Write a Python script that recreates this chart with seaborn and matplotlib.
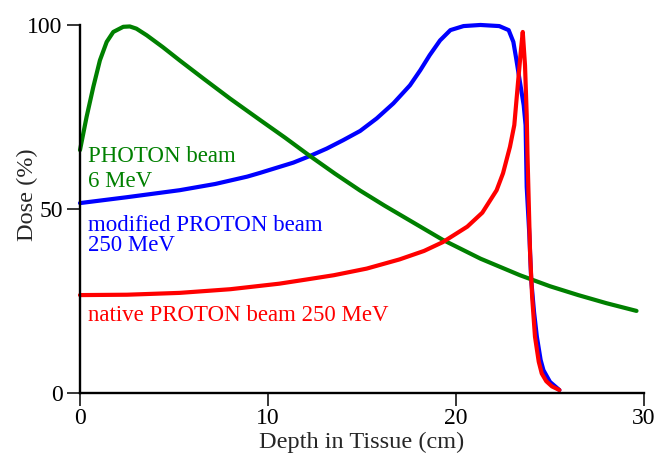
import matplotlib
matplotlib.use("Agg")
import matplotlib.pyplot as plt
import seaborn as sns
import pandas as pd

# depth (cm) and relative dose (%)
photon_x = [0, 0.35, 0.71, 1.06, 1.42, 1.77, 2.3, 2.65, 3.0, 3.55, 4.4, 5.32, 6.6, 7.98, 9.57,
            10.9, 12.23, 13.56, 14.9, 16.2, 17.4, 18.3, 19.3, 21.3, 23.4, 25.0, 26.5, 28.0, 29.6]
photon_y = [66, 75, 83.2, 90.4, 95.4, 98.1, 99.5, 99.6, 99.0, 97.2, 94.0, 90.3, 85.3, 80.0, 74.2,
            69.4, 64.4, 59.6, 55.0, 50.9, 47.3, 44.6, 41.6, 36.5, 32, 29.0, 26.6, 24.4, 22.3]

modified_x = [0, 2.5, 5.3, 7.2, 8.9, 9.57, 11.35, 12.23, 13.12, 14.0, 14.9, 15.78, 16.67, 17.55,
              18.1, 18.6, 19.15, 19.7, 20.4, 21.3, 22.3, 22.8, 23.05, 23.2, 23.4, 23.6, 23.7,
              23.76, 23.9, 24.0, 24.15, 24.3, 24.5, 24.65, 25.0, 25.5]
modified_y = [51.6, 53.2, 55.1, 56.8, 58.8, 59.8, 62.6, 64.4, 66.4, 68.7, 71.2, 74.6, 78.7, 83.6,
              87.7, 91.8, 95.8, 98.6, 99.7, 100, 99.7, 98.6, 95.4, 90.9, 84.5, 78.2, 72.8,
              56, 43, 30.7, 22, 15.3, 9, 6.2, 3, 0.8]

native_x = [0, 2.5, 5.3, 8.0, 10.6, 12.0, 13.5, 15.25, 17.0, 18.3, 19.3, 20.6, 21.4, 22.16, 22.5,
            22.87, 23.1, 23.3, 23.46, 23.55, 23.67, 23.76, 23.8, 23.94, 24.05, 24.2, 24.4, 24.56,
            24.8, 25.1, 25.5]
native_y = [26.6, 26.7, 27.2, 28.2, 29.7, 30.8, 32.0, 33.8, 36.3, 38.6, 41, 45.2, 49.0, 55.1, 59.7,
            66.9, 72.8, 84.5, 93.6, 98.1, 89, 75.5, 65, 38, 26, 15.3, 8.5, 5.3,
            3.2, 1.8, 0.8]

# annotation lines: (text, colour, baseline dose)
label_lines = [
    ("PHOTON beam", "#008000", 62.7),
    ("6 MeV", "#008000", 55.9),
    ("modified PROTON beam", "#0000ff", 44.1),
    ("250 MeV", "#0000ff", 38.6),
    ("native PROTON beam 250 MeV", "#ff0000", 19.5),
]
x_ticks = [0, 10, 20, 30]
y_ticks = [0, 50, 100]

sns.set_style("ticks")
plt.rcParams['font.family'] = ['Liberation Serif', 'DejaVu Serif']

fig = plt.figure(figsize=(6.6, 4.54), dpi=100)
ax = fig.add_axes([0.1212, 0.1344, 0.8546, 0.8106])

beams = [
    (modified_x, modified_y, "#0000ff"),
    (photon_x, photon_y, "#008000"),
    (native_x, native_y, "#ff0000"),
]
for xs, ys, col in beams:
    df = pd.DataFrame({"depth": xs, "dose": ys})
    sns.lineplot(data=df, x="depth", y="dose", color=col, linewidth=3,
                 sort=False, estimator=None, ax=ax, clip_on=False,
                 solid_joinstyle="round", solid_capstyle="round")

for txt, col, yb in label_lines:
    ax.text(0.45, yb, txt, color=col, fontsize=16.5, va="baseline")

ax.set_xlim(0, 30)
ax.set_ylim(0, 100)
ax.set_xticks(x_ticks)
ax.set_yticks(y_ticks)
ax.set_xlabel("Depth in Tissue (cm)", fontsize=17.5, labelpad=1.5)
ax.set_ylabel("Dose (%)", fontsize=17.5)
ax.yaxis.set_label_coords(-0.074, 0.54)
ax.tick_params(length=9.5, width=1.1, labelsize=17, color="black", labelcolor="black")
ax.tick_params(axis="x", pad=1.5)
ax.tick_params(axis="y", pad=3)
sns.despine(ax=ax)
for side in ["left", "bottom"]:
    ax.spines[side].set_linewidth(1.7)
    ax.spines[side].set_color("black")

fig.savefig("out.png", dpi=100)
